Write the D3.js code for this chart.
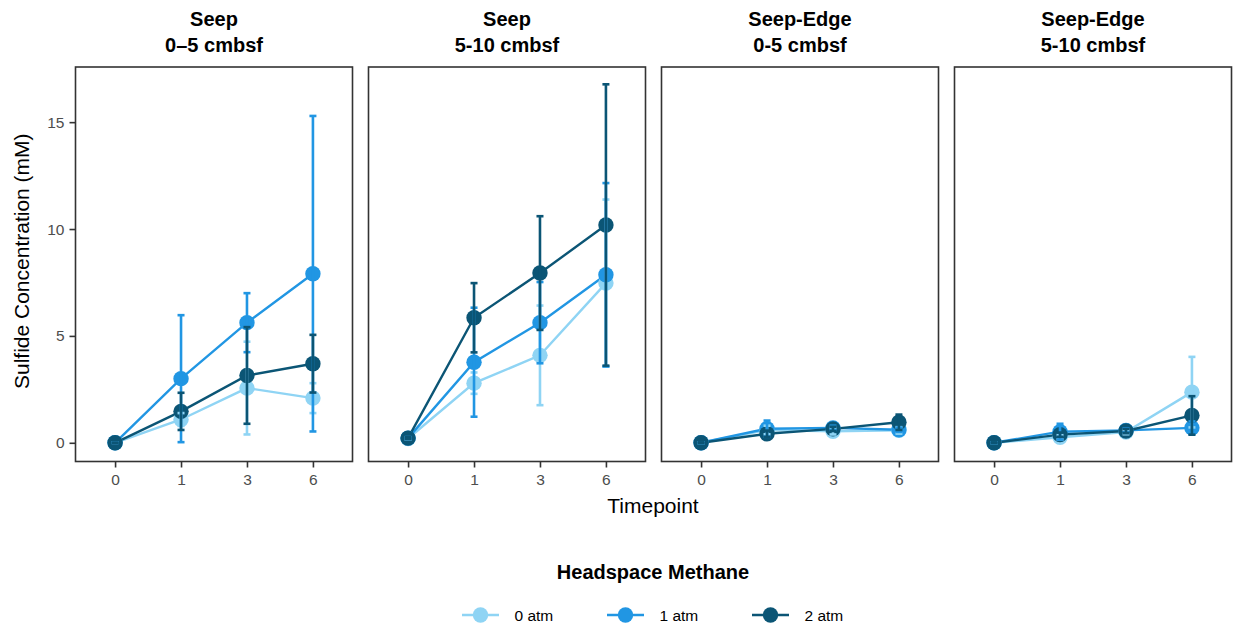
<!DOCTYPE html>
<html>
<head>
<meta charset="utf-8">
<script src="https://cdn.jsdelivr.net/npm/d3@7"></script>
<style>
  html, body { margin: 0; padding: 0; background: #fff; }
  svg { display: block; font-family: "Liberation Sans", Arial, Helvetica, sans-serif; }
</style>
</head>
<body>
<svg id="chart" width="1236" height="628"></svg>
<script>
// ---------------- data ----------------
const timepoints = ["0", "1", "3", "6"];
const groups = ["0 atm", "1 atm", "2 atm"];
const groupColors = ["#8fd4f4", "#2196e3", "#0b5575"];
const panelTitles = [
  ["Seep", "0\u20135 cmbsf"],
  ["Seep", "5-10 cmbsf"],
  ["Seep-Edge", "0-5 cmbsf"],
  ["Seep-Edge", "5-10 cmbsf"]
];
const yTicks = [0, 5, 10, 15];

// means[group][timepoint]
const seep05Mean = [[0, 1.09, 2.56, 2.09], [0, 3.00, 5.62, 7.91], [0, 1.47, 3.15, 3.70]];
const seep05SD   = [[0, 0.30, 2.17, 0.70], [0, 2.97, 1.38, 7.38], [0, 0.87, 2.26, 1.35]];
const seep510Mean = [[0.20, 2.79, 4.09, 7.47], [0.22, 3.77, 5.62, 7.86], [0.22, 5.85, 7.94, 10.19]];
const seep510SD   = [[0.05, 0.50, 2.33, 3.91], [0.05, 2.55, 1.90, 4.29], [0.05, 1.62, 2.66, 6.58]];
const edge05Mean = [[0, 0.60, 0.54, 0.58], [0, 0.66, 0.70, 0.61], [0, 0.42, 0.65, 0.96]];
const edge05SD   = [[0.02, 0.20, 0.15, 0.15], [0.02, 0.38, 0.10, 0.10], [0.02, 0.15, 0.10, 0.36]];
const edge510Mean = [[0, 0.26, 0.50, 2.37], [0, 0.52, 0.58, 0.70], [0, 0.38, 0.55, 1.28]];
const edge510SD   = [[0.02, 0.10, 0.10, 1.65], [0.02, 0.37, 0.10, 0.30], [0.02, 0.10, 0.10, 0.90]];

const panelMeans = [seep05Mean, seep510Mean, edge05Mean, edge510Mean];
const panelSDs = [seep05SD, seep510SD, edge05SD, edge510SD];

// ---------------- layout ----------------
const svg = d3.select("#chart");
const panelW = 277, panelH = 394.5;
const panelTop = 67;
const panelLefts = [75.5, 368.5, 661.5, 954.5];
const axisColor = "#333333";
const tickLabelColor = "#4d4d4d";

const x = d3.scalePoint().domain(timepoints).range([0, panelW]).padding(0.6);
const y = d3.scaleLinear().domain([-0.875, 17.58]).range([panelH, 0]);

panelTitles.forEach((title, p) => {
  const g = svg.append("g").attr("transform", `translate(${panelLefts[p]},${panelTop})`);
  const cx = panelW / 2;

  // strip title
  const st = svg.append("text")
    .attr("x", panelLefts[p] + cx).attr("text-anchor", "middle")
    .attr("font-weight", "bold").attr("font-size", 20).attr("fill", "#000");
  st.append("tspan").attr("x", panelLefts[p] + cx).attr("y", 26).text(title[0]);
  st.append("tspan").attr("x", panelLefts[p] + cx).attr("y", 51.5).text(title[1]);

  // x axis
  const xa = g.append("g").attr("transform", `translate(0,${panelH})`)
    .call(d3.axisBottom(x).tickSize(6).tickPadding(6));
  xa.select(".domain").remove();
  xa.selectAll(".tick line").attr("stroke", axisColor).attr("stroke-width", 1.6);
  xa.selectAll(".tick text").attr("fill", tickLabelColor).attr("font-size", 15.5)
    .attr("font-family", "Liberation Sans, Arial, sans-serif");

  // y axis only on first panel
  if (p === 0) {
    const ya = g.append("g")
      .call(d3.axisLeft(y).tickValues(yTicks).tickSize(6).tickPadding(5));
    ya.select(".domain").remove();
    ya.selectAll(".tick line").attr("stroke", axisColor).attr("stroke-width", 1.6);
    ya.selectAll(".tick text").attr("fill", tickLabelColor).attr("font-size", 15.5)
      .attr("font-family", "Liberation Sans, Arial, sans-serif");
  }

  const means = panelMeans[p], sds = panelSDs[p];
  const line = d3.line().x((d, i) => x(timepoints[i])).y(d => y(d));

  // lines
  groups.forEach((grp, gi) => {
    g.append("path").datum(means[gi])
      .attr("fill", "none").attr("stroke", groupColors[gi])
      .attr("stroke-width", 2.4).attr("d", line);
  });
  // points
  groups.forEach((grp, gi) => {
    g.selectAll(null).data(means[gi]).enter().append("circle")
      .attr("cx", (d, i) => x(timepoints[i])).attr("cy", d => y(d))
      .attr("r", 7.7).attr("fill", groupColors[gi]);
  });
  // error bars
  groups.forEach((grp, gi) => {
    const eb = g.selectAll(null).data(means[gi]).enter().append("g")
      .attr("stroke", groupColors[gi]).attr("stroke-width", 2.6).attr("fill", "none");
    eb.append("line")
      .attr("x1", (d, i) => x(timepoints[i])).attr("x2", (d, i) => x(timepoints[i]))
      .attr("y1", (d, i) => y(d + sds[gi][i])).attr("y2", (d, i) => y(d - sds[gi][i]));
    eb.append("line")
      .attr("x1", (d, i) => x(timepoints[i]) - 3.5).attr("x2", (d, i) => x(timepoints[i]) + 3.5)
      .attr("y1", (d, i) => y(d + sds[gi][i])).attr("y2", (d, i) => y(d + sds[gi][i]));
    eb.append("line")
      .attr("x1", (d, i) => x(timepoints[i]) - 3.5).attr("x2", (d, i) => x(timepoints[i]) + 3.5)
      .attr("y1", (d, i) => y(d - sds[gi][i])).attr("y2", (d, i) => y(d - sds[gi][i]));
  });

  // panel border
  g.append("rect").attr("x", 0).attr("y", 0).attr("width", panelW).attr("height", panelH)
    .attr("fill", "none").attr("stroke", axisColor).attr("stroke-width", 1.6);
});

// axis titles
svg.append("text").attr("x", 653).attr("y", 513).attr("text-anchor", "middle")
  .attr("font-size", 21).attr("fill", "#000").text("Timepoint");
svg.append("text").attr("transform", `translate(29,${panelTop + panelH / 2 - 3}) rotate(-90)`)
  .attr("text-anchor", "middle").attr("font-size", 21).attr("fill", "#000")
  .text("Sulfide Concentration (mM)");

// legend
svg.append("text").attr("x", 653).attr("y", 579).attr("text-anchor", "middle")
  .attr("font-weight", "bold").attr("font-size", 20).attr("fill", "#000").text("Headspace Methane");

const legendX = [480.5, 625.5, 770.5];
const legendY = 615;
groups.forEach((grp, gi) => {
  const lg = svg.append("g");
  lg.append("line").attr("x1", legendX[gi] - 18.5).attr("x2", legendX[gi] + 18.5)
    .attr("y1", legendY).attr("y2", legendY)
    .attr("stroke", groupColors[gi]).attr("stroke-width", 2.4);
  lg.append("circle").attr("cx", legendX[gi]).attr("cy", legendY).attr("r", 7.7)
    .attr("fill", groupColors[gi]);
  lg.append("text").attr("x", legendX[gi] + 34).attr("y", legendY + 5.5)
    .attr("font-size", 15.5).attr("fill", "#000").text(grp);
});
</script>
</body>
</html>
